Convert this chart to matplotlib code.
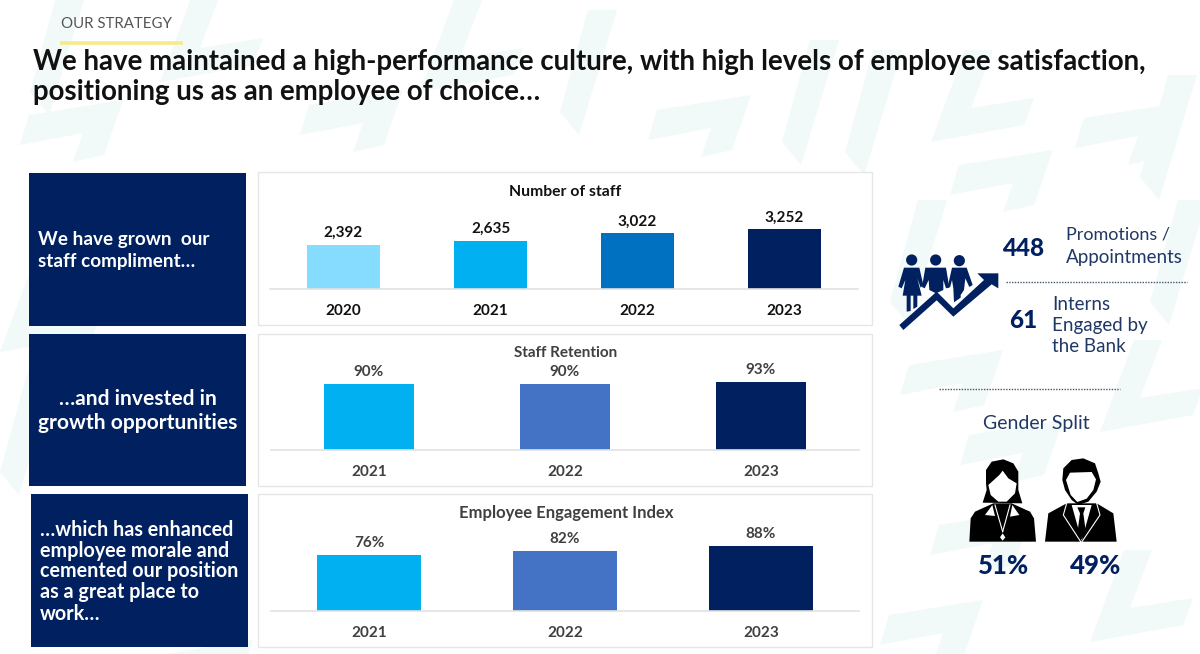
import matplotlib
matplotlib.use('Agg')
import matplotlib.pyplot as plt
from matplotlib.patches import Polygon, Rectangle, Circle

plt.rcParams['font.family'] = ['Lato', 'DejaVu Sans']

staff_years = ['2020', '2021', '2022', '2023']
staff_values = [2392, 2635, 3022, 3252]
staff_colors = ['#85dcff', '#00b0f0', '#0070c0', '#002060']

retention_years = ['2021', '2022', '2023']
retention_values = [90, 90, 93]
engagement_years = ['2021', '2022', '2023']
engagement_values = [76, 82, 88]
pct_colors = ['#00b0f0', '#4472c4', '#002060']

promotions = 448
interns = 61
female_pct = 51
male_pct = 49

W, H = 1200, 654
NAVY = '#002060'
TEXT = '#111111'
GREY = '#404040'
BLUE_TEXT = '#1f3864'
PALE = '#f2f9f9'

fig = plt.figure(figsize=(W / 100, H / 100), dpi=100, facecolor='white')


def px_axes(x0, y0, x1, y1):
    # axes placed by pixel box, y measured from the top
    return fig.add_axes([x0 / W, 1 - y1 / H, (x1 - x0) / W, (y1 - y0) / H])


bg = px_axes(0, 0, W, H)
bg.set_xlim(0, W)
bg.set_ylim(H, 0)
bg.axis('off')

# faint background pattern, three repeated shapes
seven = [(9, 15), (103, 0), (84, 55), (53, 62), (63, 33), (0, 45)]
stripe = [(28, -50), (0, 52), (19, 75), (57, -50)]
zed = [(34, -40), (0, 52), (93, 35), (103, 8), (40, 18), (62, -40)]
for shape, ox, oy in [(seven, 648, 95), (seven, 1075, 103), (seven, 950, 150),
                      (stripe, 782, 90), (stripe, 845, 100), (zed, 931, 90),
                      (stripe, 1140, 125), (seven, 20, 100), (zed, 160, 30),
                      (stripe, 30, 40), (seven, 300, 90), (zed, 420, 40), (stripe, 560, 60),
                      (seven, 900, 350), (zed, 1100, 380), (stripe, 1150, 250),
                      (seven, 930, 510), (zed, 1090, 590), (seven, 880, 600),
                      (stripe, 890, 250), (zed, 0, 300), (stripe, 0, 420), (seven, 150, 640),
                      (seven, 960, 420)]:
    bg.add_patch(Polygon([(ox + a, oy + b) for a, b in shape], closed=True, fc=PALE, ec='none', zorder=0))

bg.text(61, 24, 'OUR STRATEGY', fontsize=10.8, color='#555555', va='center', ha='left')
bg.plot([60, 183], [42.5, 42.5], color='#f5ea8c', lw=2.6, solid_capstyle='butt')
bg.text(33, 62, 'We have maintained a high-performance culture, with high levels of employee satisfaction,',
        fontsize=19.9, fontweight='bold', color=TEXT, va='center', ha='left')
bg.text(33, 92, 'positioning us as an employee of choice…',
        fontsize=19.9, fontweight='bold', color=TEXT, va='center', ha='left')

# navy boxes and white panels
boxes = [(29, 173, 246, 326), (29, 334, 246, 486), (31, 494, 248, 647)]
panels = [(258, 172, 872, 325), (258, 334, 872, 486), (258, 494, 872, 647)]
for x0, y0, x1, y1 in boxes:
    bg.add_patch(Rectangle((x0, y0), x1 - x0, y1 - y0, fc=NAVY, ec='none', zorder=1))
for x0, y0, x1, y1 in panels:
    bg.add_patch(Rectangle((x0, y0), x1 - x0, y1 - y0, fc='white', ec='#e6e6e6', lw=1, zorder=1))

bg.text(38, 240, 'We have grown  our', color='white', fontsize=13.6, fontweight='bold', va='center', zorder=2)
bg.text(38, 261, 'staff compliment…', color='white', fontsize=13.6, fontweight='bold', va='center', zorder=2)
bg.text(138, 399, '…and invested in', color='white', fontsize=15.1, fontweight='bold', va='center', ha='center', zorder=2)
bg.text(138, 423, 'growth opportunities', color='white', fontsize=15.1, fontweight='bold', va='center', ha='center', zorder=2)
for yy, line in zip([530, 551, 571, 592, 614],
                    ['…which has enhanced', 'employee morale and', 'cemented our position',
                     'as a great place to', 'work…']):
    bg.text(40, yy, line, color='white', fontsize=14.2, fontweight='bold', va='center', zorder=2)


def bar_panel(box, base_y, top_y, ymax, years, values, colors, width, labels, tcolor, title, title_y, title_size):
    x0, x1 = box
    ax = px_axes(x0, top_y, x1, base_y)
    ax.patch.set_alpha(0)
    xs = list(range(len(values)))
    ax.bar(xs, values, width=width, color=colors)
    ax.set_xlim(-0.5, len(values) - 0.5)
    ax.set_ylim(0, ymax)
    for s in ['top', 'right', 'left']:
        ax.spines[s].set_visible(False)
    ax.spines['bottom'].set_color('#e2e2e2')
    ax.spines['bottom'].set_linewidth(1.2)
    ax.set_yticks([])
    ax.set_xticks(xs)
    ax.set_xticklabels(years, fontsize=11, fontweight='bold', color=tcolor)
    ax.tick_params(axis='x', length=0, pad=10.5)
    for x, v, lab in zip(xs, values, labels):
        ax.annotate(lab, (x, v), xytext=(0, 3.5), textcoords='offset points', ha='center', va='bottom',
                    fontsize=11, fontweight='bold', color=tcolor)
    bg.text((x0 + x1) / 2 + 1, title_y, title, fontsize=title_size, fontweight='bold', color=tcolor,
            ha='center', va='center', zorder=2)


bar_panel((270, 858), 289, 200, 4837, staff_years, staff_values, staff_colors, 0.5,
          [f'{v:,}' for v in staff_values], TEXT, 'Number of staff', 192, 11.3)
bar_panel((271, 859), 450, 350, 136, retention_years, retention_values, pct_colors, 0.46,
          [f'{v}%' for v in retention_values], GREY, 'Staff Retention', 353, 11)
bar_panel((271, 859), 611, 510, 137, engagement_years, engagement_values, pct_colors, 0.53,
          [f'{v}%' for v in engagement_values], GREY, 'Employee Engagement Index', 513, 12)

# right column
bg.text(1023, 249, str(promotions), fontsize=17.5, fontweight='black', color=NAVY, ha='center', va='center')
bg.text(1066, 235, 'Promotions /', fontsize=13, color=BLUE_TEXT, va='center')
bg.text(1066, 257, 'Appointments', fontsize=13.5, color=BLUE_TEXT, va='center')
bg.plot([1006, 1187], [282, 282], color='#44546a', lw=1, ls=(0, (1, 1)))
bg.text(1023, 320, str(interns), fontsize=17.5, fontweight='black', color=NAVY, ha='center', va='center')
for yy, line in zip([305, 326, 347], ['Interns', 'Engaged by', 'the Bank']):
    bg.text(1052, yy, line, fontsize=13.5, color=BLUE_TEXT, va='center')
bg.plot([939, 1120], [389, 389], color='#44546a', lw=1, ls=(0, (1, 1)))
bg.text(1036, 423, 'Gender Split', fontsize=14, color=BLUE_TEXT, ha='center', va='center')
bg.text(1004, 566, f'{female_pct}%', fontsize=18.5, fontweight='black', color=NAVY, ha='center', va='center')
bg.text(1096, 566, f'{male_pct}%', fontsize=18.5, fontweight='black', color=NAVY, ha='center', va='center')


def pp(x, y):
    # people icon, coordinates at 3x from its corner
    return (890 + x / 3, 245 + y / 3)


def gg(x, y):
    # gender icons, coordinates at 3x from their corner
    return (960 + x / 3, 450 + y / 3)


def poly(conv, points, color, zorder=3):
    bg.add_patch(Polygon([conv(*p) for p in points], closed=True, fc=color, ec='none', zorder=zorder))


# people with rising arrow
for hx, hy in [(65, 45), (137, 45), (208, 47)]:
    cx, cy = pp(hx, hy)
    bg.add_patch(Circle((cx, cy), 5.6, fc=NAVY, ec='none', zorder=3))
poly(pp, [(42, 68), (88, 68), (100, 120), (92, 128), (82, 100), (95, 152), (82, 152), (82, 185), (70, 192),
          (70, 152), (62, 152), (62, 198), (50, 200), (50, 152), (38, 152), (46, 105), (35, 130), (25, 125)], NAVY)
poly(pp, [(106, 68), (168, 68), (178, 128), (168, 130), (160, 105), (160, 135), (138, 145), (118, 135),
          (116, 105), (104, 130), (96, 126)], NAVY)
poly(pp, [(186, 68), (230, 68), (248, 120), (238, 126), (226, 100), (222, 135), (212, 150), (212, 158),
          (192, 172), (190, 130), (186, 105), (180, 128), (174, 122)], NAVY)
poly(pp, [(28, 240), (140, 140), (190, 190), (282, 105), (262, 85), (325, 85), (325, 130), (305, 118),
          (190, 215), (140, 166), (40, 255)], NAVY, zorder=4)

# woman
poly(gg, [(78, 100), (78, 60), (95, 35), (130, 28), (160, 40), (175, 65), (175, 120), (187, 160),
          (68, 158), (80, 120)], 'black')
poly(gg, [(85, 105), (118, 75), (128, 62), (145, 85), (170, 100), (165, 130), (140, 155), (115, 155), (92, 135)],
     'white', zorder=4)
poly(gg, [(28, 275), (32, 205), (45, 185), (100, 160), (155, 160), (210, 185), (222, 205), (228, 275)], 'black')
poly(gg, [(97, 165), (75, 195), (105, 198)], 'white', zorder=4)
poly(gg, [(157, 165), (178, 195), (150, 200)], 'white', zorder=4)
poly(gg, [(128, 250), (120, 262), (128, 272), (136, 262)], 'white', zorder=4)
for a, b in [((105, 165), (128, 245)), ((150, 165), (128, 245))]:
    bg.plot(*zip(gg(*a), gg(*b)), color='white', lw=0.8, zorder=4)

# man
poly(gg, [(307, 90), (310, 55), (335, 30), (370, 25), (405, 40), (415, 70), (422, 95), (410, 125), (385, 155),
          (355, 165), (335, 150), (315, 120)], 'black')
poly(gg, [(318, 90), (330, 68), (395, 66), (408, 88), (400, 120), (380, 146), (352, 156), (332, 135)],
     'white', zorder=4)
poly(gg, [(255, 275), (265, 190), (320, 160), (410, 160), (460, 190), (470, 275)], 'black')
poly(gg, [(335, 165), (395, 165), (365, 272)], 'white', zorder=4)
poly(gg, [(352, 172), (376, 172), (370, 190), (378, 250), (364, 268), (352, 250), (360, 190)], 'black', zorder=5)
for a, b, c in [((320, 160), (310, 195), (362, 275)), ((410, 160), (420, 195), (366, 275))]:
    bg.plot(*zip(gg(*a), gg(*b), gg(*c)), color='white', lw=0.8, zorder=4)

fig.savefig('out.png', dpi=100)
